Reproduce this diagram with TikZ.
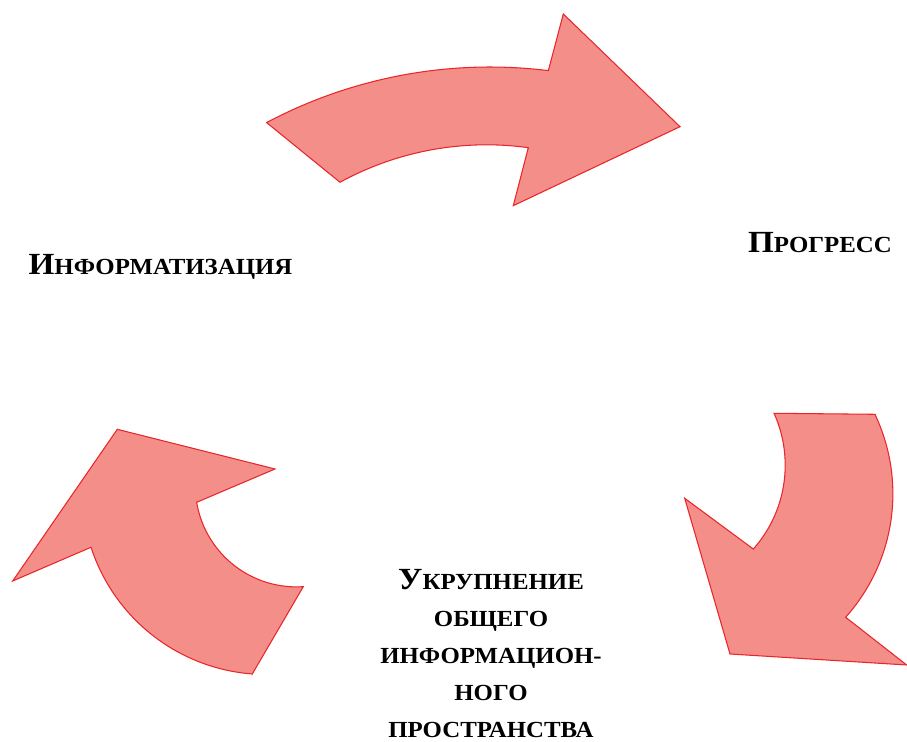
\documentclass[tikz,border=0pt]{standalone}
\usepackage{fontspec}
\setmainfont{Liberation Serif}
\newfontfamily\stagefont{Liberation Serif}[FakeStretch=1.08]
\usepackage{tikz}

\definecolor{arrowfill}{RGB}{243,142,137}
\definecolor{arrowline}{RGB}{232,38,43}

% hand-made small caps: full capital, then smaller capitals
\newcommand{\capsz}{\fontsize{17.5}{21}\selectfont}
\newcommand{\scsz}{\fontsize{13.1}{21}\selectfont}

\begin{document}
\begin{tikzpicture}[x=0.02cm, y=-0.02cm,
    cyclearrow/.style={fill=arrowfill, draw=arrowline, line width=0.6pt, line join=miter},
    stagetext/.style={font=\stagefont\bfseries\scsz, inner sep=0pt},
    arc/.style={samples=40}]
  \useasboundingbox (0,0) rectangle (907,742);

  % top arrow
  \draw[cyclearrow] (266.7,122.7)
    -- plot[arc, domain=-117.92:-82.97] ({490+477*cos(\x)},{544+477*sin(\x)})
    -- (563.3,14) -- (680,126.7) -- (513.3,205.7) -- (528.3,147.7)
    -- plot[arc, domain=-82.16:-118.67] ({486.6+305.6*cos(\x)},{450.4+305.6*sin(\x)})
    -- cycle;

  % right arrow
  \draw[cyclearrow] (875,414.3)
    -- plot[arc, domain=-25.44:41.87] ({707.9+185*cos(\x)},{493.8+185*sin(\x)})
    -- (906.7,665) -- (730,654) -- (684.7,498.3) -- (753.3,549)
    -- plot[arc, domain=41.63:-24.29] ({659+126.2*cos(\x)},{465.2+126.2*sin(\x)})
    -- cycle;

  % left arrow
  \draw[cyclearrow] (117.3,429.3) -- (275,469) -- (196.7,502.3)
    -- plot[arc, domain=170.56:86.15] ({296.5+101.2*cos(\x)},{485.7+101.2*sin(\x)})
    -- (252.3,674)
    -- plot[arc, domain=94.3:162] ({266.1+184.1*cos(\x)},{490.4+184.1*sin(\x)})
    -- (12.7,581) -- cycle;

  \node[stagetext, anchor=base] (info) at (160.5,275)
    {{\capsz И}НФОРМАТИЗАЦИЯ};
  \node[stagetext, anchor=base] (progress) at (820,253)
    {{\capsz П}РОГРЕСС};
  \node[stagetext, anchor=north, align=center] (merge) at (491,569.5)
    {{\capsz У}КРУПНЕНИЕ\\ ОБЩЕГО\\ ИНФОРМАЦИОН-\\ НОГО\\ ПРОСТРАНСТВА};
\end{tikzpicture}
\end{document}
